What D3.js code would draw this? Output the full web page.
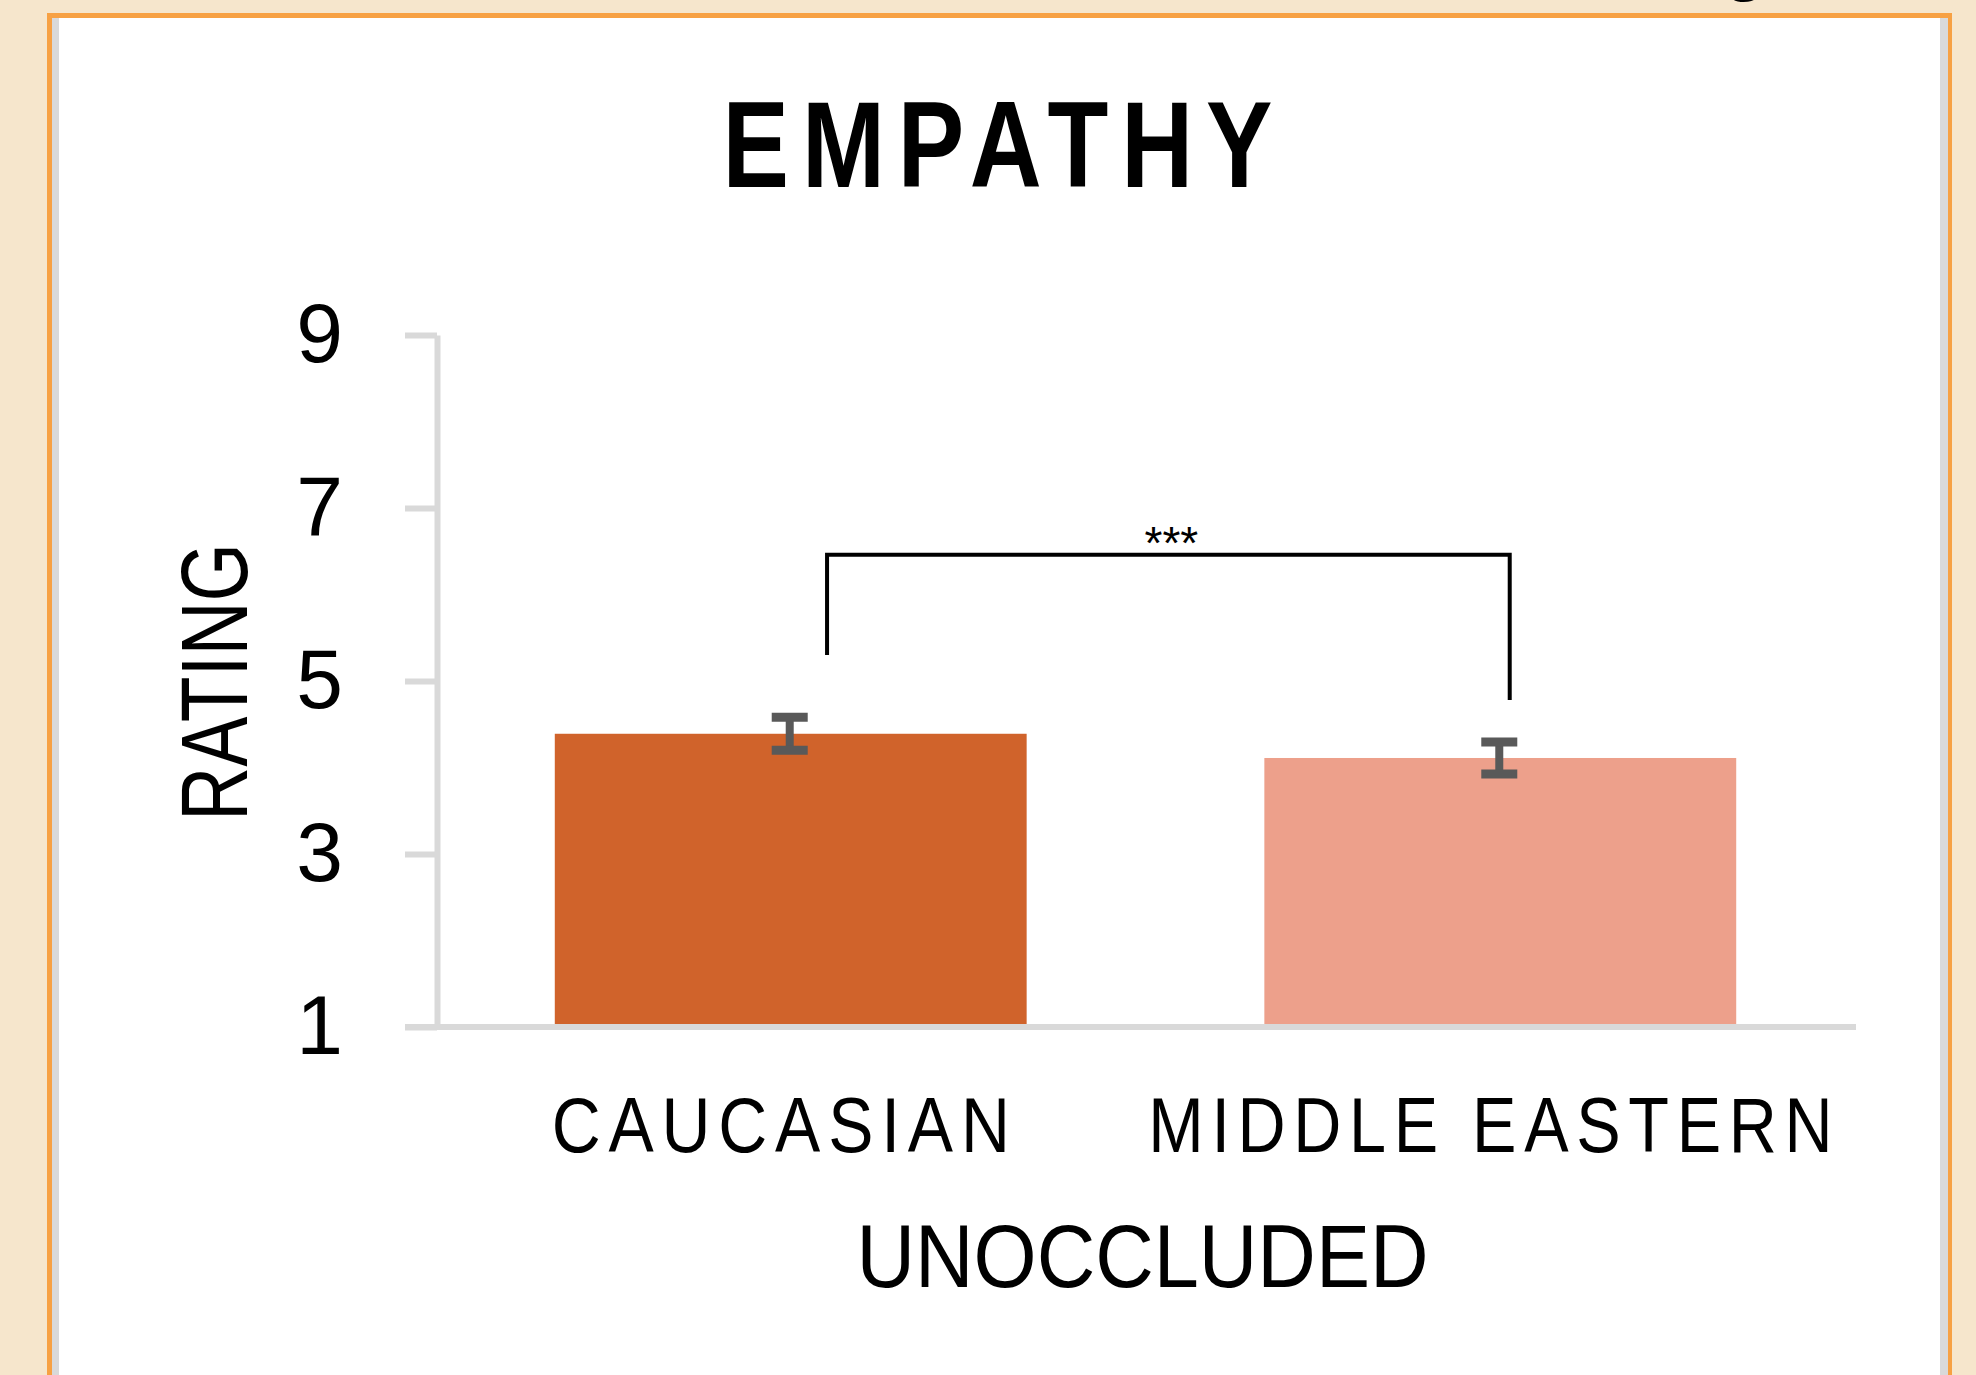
<!DOCTYPE html>
<html>
<head>
<meta charset="utf-8">
<script src="https://cdn.jsdelivr.net/npm/d3@7"></script>
<style>
  html, body { margin: 0; padding: 0; background: #F6E6CC; }
  svg { display: block; }
  text { font-family: "Liberation Sans", Arial, sans-serif; fill: #000; }
</style>
</head>
<body>
<script>
// data
var categories = ["CAUCASIAN", "MIDDLE EASTERN"];
var means = [4.39, 4.11];
var errors = [0.19, 0.185];
var barColors = ["#D0632B", "#EDA08B"];
var yTicks = [1, 3, 5, 7, 9];
var groupLabel = "UNOCCLUDED";
var title = "EMPATHY";
// significance bracket: level, leg ends (rating units), leg positions within bands
var bracketLevel = 6.46;
var bracketEnds = [5.30, 4.78];
var bracketFrac = [0.577, 0.52];
var bracketText = "***";

var width = 1976,
    height = 1375;

var svg = d3.select("body").append("svg")
  .attr("width", width)
  .attr("height", height);

// page + card
svg.append("rect").attr("width", width).attr("height", height).attr("fill", "#F6E6CC");
svg.append("rect").attr("x", 47).attr("y", 13).attr("width", 1905).attr("height", 1400).attr("fill", "#F7A143");
svg.append("rect").attr("x", 52).attr("y", 18).attr("width", 1896).attr("height", 1400).attr("fill", "#D9D9D9");
svg.append("rect").attr("x", 59).attr("y", 18).attr("width", 1881).attr("height", 1400).attr("fill", "#fff");

// bit of a heading above the card, cut off by the top edge
svg.append("text")
  .attr("x", 1745).attr("y", -13)
  .attr("text-anchor", "middle")
  .style("font-size", "70px").style("font-weight", "bold")
  .text("g");

var x0 = 437, x1 = 1854,
    y0 = 1027, y1 = 335;

var x = d3.scaleBand()
  .domain(categories)
  .range([x0, x1])
  .paddingInner(0.335)
  .paddingOuter(0.166);

var y = d3.scaleLinear()
  .domain([1, 9])
  .range([y0, y1]);

// title
svg.append("text")
  .attr("x", 1004).attr("y", 187)
  .attr("text-anchor", "middle")
  .attr("textLength", 563)
  .attr("lengthAdjust", "spacingAndGlyphs")
  .style("font-size", "123px").style("font-weight", "bold")
  .style("letter-spacing", "16px")
  .text(title);

// bars
svg.append("g")
  .selectAll("rect")
  .data(categories)
  .enter()
.append("rect")
  .attr("x", function(d) {return x(d);})
  .attr("width", x.bandwidth())
  .attr("y", function(d, i) {return y(means[i]);})
  .attr("height", function(d, i) {return y(1) - y(means[i]);})
  .attr("fill", function(d, i) {return barColors[i];});

// y axis
var yAxis = svg.append("g")
  .attr("transform", "translate(" + x0 + ",0)")
  .call(d3.axisLeft(y).tickValues(yTicks).tickSizeInner(32).tickSizeOuter(0).tickPadding(62));
yAxis.select(".domain").attr("stroke", "#D9D9D9").attr("stroke-width", 6);
yAxis.selectAll(".tick line").attr("stroke", "#D9D9D9").attr("stroke-width", 6);
yAxis.selectAll(".tick text")
  .style("font-family", "'Liberation Sans', Arial, sans-serif")
  .style("font-size", "84px")
  .attr("fill", "#000");

// x axis baseline
svg.append("line")
  .attr("x1", x0 - 32).attr("x2", x1 + 2)
  .attr("y1", y(1)).attr("y2", y(1))
  .attr("stroke", "#D9D9D9").attr("stroke-width", 6);

// category labels
svg.append("g")
  .selectAll("text")
  .data(categories)
  .enter()
.append("text")
  .attr("x", function(d) {return x(d) + x.bandwidth() / 2 - 6;})
  .attr("y", 1152)
  .attr("text-anchor", "middle")
  .attr("textLength", function(d, i) {return i == 0 ? 466 : 692;})
  .attr("lengthAdjust", "spacingAndGlyphs")
  .style("font-size", "78px")
  .style("letter-spacing", "9px")
  .text(function(d) {return d;});

svg.append("text")
  .attr("x", (x0 + x1) / 2 - 3).attr("y", 1287)
  .attr("text-anchor", "middle")
  .attr("textLength", 572)
  .attr("lengthAdjust", "spacingAndGlyphs")
  .style("font-size", "89px")
  .text(groupLabel);

// y title
svg.append("text")
  .attr("transform", "translate(247,682) rotate(-90)")
  .attr("text-anchor", "middle")
  .attr("textLength", 278)
  .attr("lengthAdjust", "spacingAndGlyphs")
  .style("font-size", "95px")
  .text("RATING");

// error bars
var err = svg.append("g")
  .selectAll("g")
  .data(categories)
  .enter()
.append("g")
  .attr("stroke", "#595959");

err.append("line")
  .attr("x1", function(d) {return x(d) + x.bandwidth() / 2 - 1;})
  .attr("x2", function(d) {return x(d) + x.bandwidth() / 2 - 1;})
  .attr("y1", function(d, i) {return y(means[i] + errors[i]);})
  .attr("y2", function(d, i) {return y(means[i] - errors[i]);})
  .attr("stroke-width", 8);

[1, -1].forEach(function(s) {
  err.append("line")
    .attr("x1", function(d) {return x(d) + x.bandwidth() / 2 - 19;})
    .attr("x2", function(d) {return x(d) + x.bandwidth() / 2 + 17;})
    .attr("y1", function(d, i) {return y(means[i] + s * errors[i]);})
    .attr("y2", function(d, i) {return y(means[i] + s * errors[i]);})
    .attr("stroke-width", 9);
});

// significance bracket
var bx = categories.map(function(d, i) {return x(d) + bracketFrac[i] * x.bandwidth();});
svg.append("path")
  .attr("d", "M" + bx[0] + "," + y(bracketEnds[0]) +
    "V" + y(bracketLevel) +
    "H" + bx[1] +
    "V" + y(bracketEnds[1]))
  .attr("fill", "none")
  .attr("stroke", "#000")
  .attr("stroke-width", 4);

svg.append("text")
  .attr("x", (bx[0] + bx[1]) / 2 + 3)
  .attr("y", y(bracketLevel) + 4)
  .attr("text-anchor", "middle")
  .style("font-size", "46px")
  .text(bracketText);
</script>
</body>
</html>
